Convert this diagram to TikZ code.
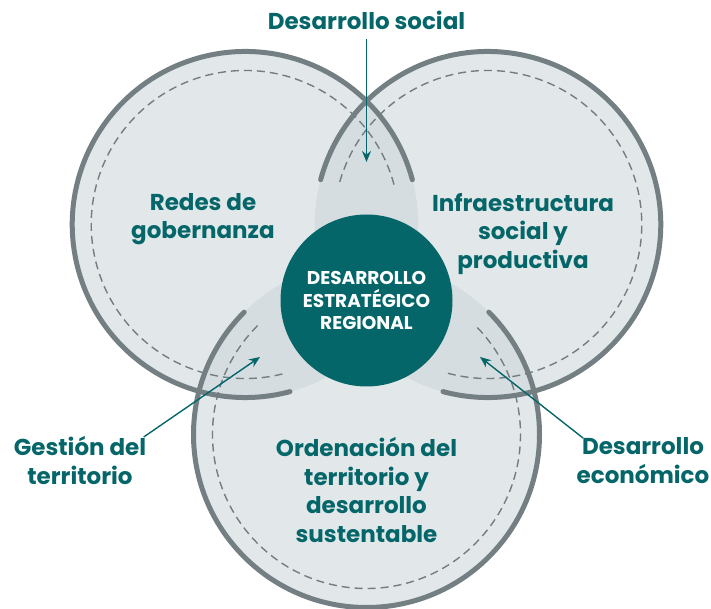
\documentclass[tikz,border=0pt]{standalone}
\usepackage{fontspec}
\setmainfont{Poppins}
\usetikzlibrary{arrows.meta}

\definecolor{tealdark}{HTML}{05666A}
\definecolor{ringgray}{HTML}{737F83}
\definecolor{seamgray}{HTML}{737D80}
\definecolor{fillgray}{HTML}{E2E8E9}
\definecolor{lensgray}{HTML}{D5DDE0}

\begin{document}
\begin{tikzpicture}[x=1pt,y=1pt,
    ring/.style={draw=ringgray, line width=5pt, line cap=round},
    seam/.style={draw=seamgray, line width=1.4pt, dash pattern=on 8pt off 5pt},
    label/.style={text=tealdark, align=center, font=\bfseries\fontsize{23}{28.5}\selectfont},
    pointer/.style={draw=tealdark, line width=1.4pt, -{Stealth[length=11pt,width=9pt]}}]
  \useasboundingbox (-366.5,-314.5) rectangle (344.5,294.5);

  % Centres of the three sets
  \coordinate (L) at (150:140pt);
  \coordinate (R) at (30:140pt);
  \coordinate (B) at (270:140pt);

  % Fill the three sets
  \fill[fillgray] (L) circle(173pt) (R) circle(173pt) (B) circle(173pt);

  % Darker overlaps
  \begin{scope}
    \clip (L) circle(173pt);
    \fill[lensgray] (R) circle(173pt) (B) circle(173pt);
  \end{scope}
  \begin{scope}
    \clip (R) circle(173pt);
    \fill[lensgray] (B) circle(173pt);
  \end{scope}

  % Outer rings and dashed seams, open towards the middle
  \foreach \c/\a in {L/150, R/30, B/270} {
    \draw[ring] (\c) ++({\a+225}:173pt) arc[start angle=\a+225, end angle=\a+495, radius=173pt];
    \draw[seam] (\c) ++({\a+225}:154pt) arc[start angle=\a+225, end angle=\a+495, radius=154pt];
  }

  % Core
  \node[circle, fill=tealdark, minimum size=172pt, inner sep=0pt, text=white, align=center,
        font=\bfseries\fontsize{18.5}{22.5}\selectfont] (core) at (0,-6)
        {DESARROLLO\\ESTRATÉGICO\\REGIONAL};

  % Label the sets
  \node[label] (redes) at (-163.5,75.5) {Redes de\\gobernanza};
  \node[label] (infra) at (156.5,60.5) {Infraestructura\\social y\\productiva};
  \node[label] (orden) at (0,-195.5) {Ordenación del\\territorio y\\desarrollo\\sustentable};

  % Label the overlaps
  \node[label] (social) at (0,274.5) {Desarrollo social};
  \node[label] (gestion) at (-286.5,-166) {Gestión del\\territorio};
  \node[label] (economico) at (276.5,-166) {Desarrollo\\económico};

  \coordinate (socialtip) at (0,132.5);
  \coordinate (gestiontip) at (-106.5,-62.5);
  \coordinate (economicotip) at (113.5,-62.5);

  \draw[pointer, shorten <=6pt] (social.south) -- (socialtip);
  \draw[pointer] ([xshift=-6pt,yshift=-4pt]gestion.north east) -- (gestiontip);
  \draw[pointer] ([xshift=10pt,yshift=-4pt]economico.north west) -- (economicotip);
\end{tikzpicture}
\end{document}
